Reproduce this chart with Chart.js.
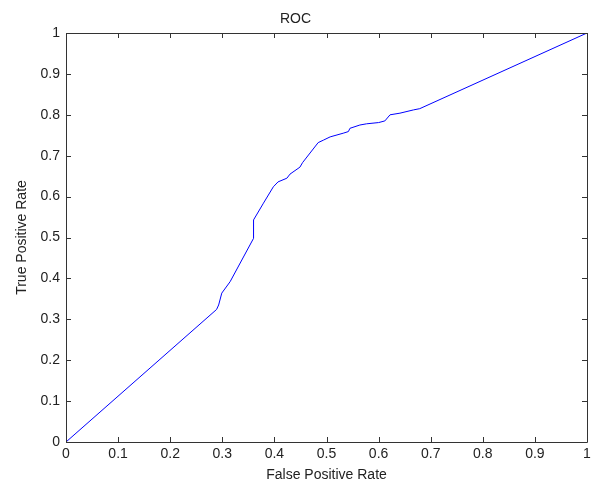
<!DOCTYPE html>
<html>
<head>
<meta charset="utf-8">
<script src="https://cdn.jsdelivr.net/npm/chart.js@4"></script>
<style>
  body { margin: 0; background: #fff; }
  #wrap { width: 591px; height: 484px; }
</style>
</head>
<body>
<div id="wrap"><canvas id="roc_chart"></canvas></div>
<script>
// ROC curve points
const fpr = [0, 0.289, 0.293, 0.299, 0.315, 0.36, 0.36, 0.379, 0.398, 0.407, 0.424, 0.43, 0.449, 0.454, 0.484, 0.494, 0.507, 0.532, 0.542, 0.545, 0.564, 0.577, 0.6, 0.612, 0.622, 0.641, 0.667, 0.679, 1];
const tpr = [0, 0.324, 0.335, 0.364, 0.392, 0.498, 0.543, 0.584, 0.624, 0.636, 0.645, 0.655, 0.672, 0.683, 0.732, 0.738, 0.746, 0.755, 0.759, 0.767, 0.775, 0.778, 0.781, 0.785, 0.8, 0.804, 0.812, 0.815, 1];
const tickValues = [0, 0.1, 0.2, 0.3, 0.4, 0.5, 0.6, 0.7, 0.8, 0.9, 1];

const fontFam = '"Liberation Sans", Arial, Helvetica, sans-serif';
const axisColor = '#333';

// matlab style box with inward ticks
const boxTicks = {
  id: 'boxTicks',
  afterDraw(chart) {
    const { ctx, chartArea: a, scales } = chart;
    ctx.save();
    ctx.strokeStyle = axisColor;
    ctx.lineWidth = 1;
    ctx.beginPath();
    ctx.rect(Math.round(a.left) + 0.5, Math.round(a.top) + 0.5, Math.round(a.right - a.left), Math.round(a.bottom - a.top));
    tickValues.forEach(v => {
      const x = Math.round(scales.x.getPixelForValue(v)) + 0.5;
      ctx.moveTo(x, a.bottom); ctx.lineTo(x, a.bottom - 5);
      ctx.moveTo(x, a.top); ctx.lineTo(x, a.top + 5);
      const y = Math.round(scales.y.getPixelForValue(v)) + 0.5;
      ctx.moveTo(a.left, y); ctx.lineTo(a.left + 5, y);
      ctx.moveTo(a.right, y); ctx.lineTo(a.right - 5, y);
    });
    ctx.stroke();
    ctx.restore();
  }
};

const ctx = document.getElementById('roc_chart');
const roc_chart = new Chart(ctx, {
  type: 'scatter',
  data: {
    datasets: [{
      label: 'ROC',
      data: fpr.map((x, i) => ({ x: x, y: tpr[i] })),
      showLine: true,
      borderColor: '#0000ff',
      borderWidth: 1,
      pointRadius: 0,
      tension: 0
    }]
  },
  options: {
    responsive: true,
    maintainAspectRatio: false,
    animation: false,
    layout: { padding: 0 },
    plugins: {
      legend: { display: false },
      tooltip: { enabled: false },
      title: {
        display: true,
        text: 'ROC',
        color: '#222',
        font: { family: fontFam, size: 14, weight: 'normal' },
        padding: { top: 11, bottom: 5.2 }
      }
    },
    scales: {
      x: {
        type: 'linear',
        min: 0, max: 1,
        afterFit: s => { s.height = 42; s.paddingRight = 4; s.paddingLeft = 0; },
        grid: { display: false, drawTicks: false },
        border: { display: false },
        ticks: {
          stepSize: 0.1,
          padding: 4,
          color: '#222',
          font: { family: fontFam, size: 14 },
          callback: v => +v.toFixed(1)
        },
        title: {
          display: true,
          text: 'False Positive Rate',
          color: '#222',
          font: { family: fontFam, size: 14 },
          padding: { top: 0, bottom: 0.6 }
        }
      },
      y: {
        type: 'linear',
        min: 0, max: 1,
        afterFit: s => { s.width = 66; },
        grid: { display: false, drawTicks: false },
        border: { display: false },
        ticks: {
          stepSize: 0.1,
          padding: 6,
          color: '#222',
          font: { family: fontFam, size: 14 },
          callback: v => +v.toFixed(1)
        },
        title: {
          display: true,
          text: 'True Positive Rate',
          color: '#222',
          font: { family: fontFam, size: 14 },
          padding: { top: 13.6, bottom: 0 }
        }
      }
    }
  },
  plugins: [boxTicks]
});
</script>
</body>
</html>
